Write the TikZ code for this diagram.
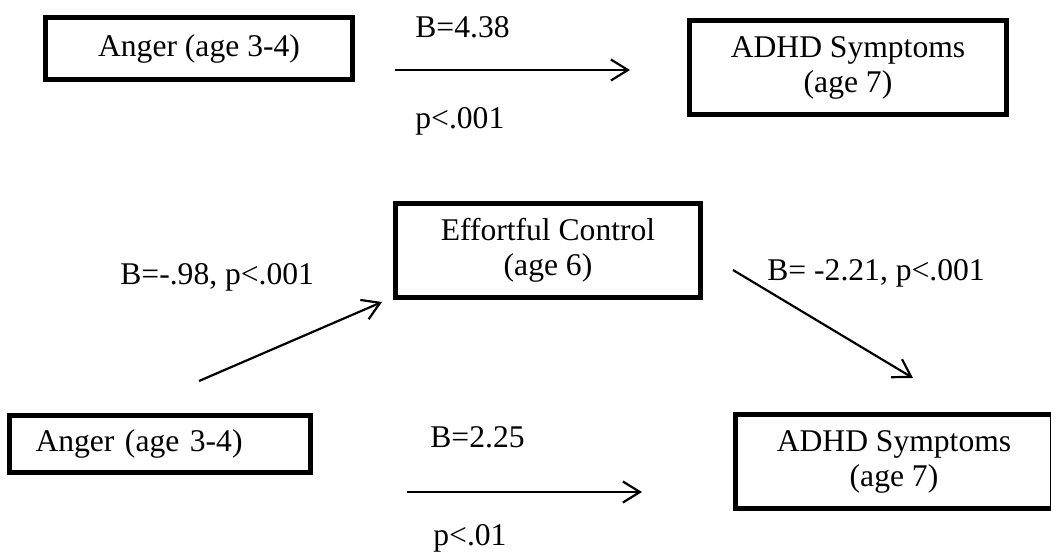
\documentclass[tikz,border=0pt]{standalone}
\usepackage{fontspec}
\setmainfont{Liberation Serif}
\usetikzlibrary{arrows.meta}
\tikzset{
  txt/.style={font=\fontsize{15.8}{17.5}\selectfont, inner sep=0pt},
  box/.style={draw=black, line width=2.6pt, rectangle, inner sep=0pt,
    font=\fontsize{15.8}{17.5}\selectfont, align=center},
  lbl/.style={txt, anchor=base west},
  link/.style={line width=1.1pt, -{Straight Barb[length=8.5pt,width=10.5pt]}}
}
\begin{document}
\begin{tikzpicture}[x=0.5pt,y=-0.5pt]
  \useasboundingbox (0,0) rectangle (1051,554);
  \clip (0,0) rectangle (1051,554);

  % total effect model
  \node[box, minimum width=153.5pt, minimum height=31pt] (anger1) at (199,48.5) {Anger (age 3-4)};
  \node[box, minimum width=158.5pt, minimum height=47pt] (adhd1) at (848,67.5) {ADHD Symptoms\\(age 7)};
  \coordinate (c1s) at (395,70);
  \coordinate (c1e) at (630,70);
  \draw[link] (c1s) -- (c1e);
  \node[lbl] (b1) at (415,37) {B=4.38};
  \node[lbl] (p1) at (415,128) {p<.001};

  % mediation model
  \node[box, minimum width=152.5pt, minimum height=47pt] (ec) at (548,250.5) {Effortful Control\\(age 6)};
  \node[box, minimum width=150.5pt, minimum height=28.5pt, text width=124.5pt, align=left, inner xsep=13pt] (anger2) at (160,444) {Anger (age 3-4)};
  \node[box, minimum width=158.5pt, minimum height=47pt] (adhd2) at (894,461.5) {ADHD Symptoms\\(age 7)};

  \coordinate (a2s) at (199,381);
  \coordinate (a2e) at (382,302);
  \draw[link] (a2s) -- (a2e);
  \node[lbl] (ba) at (120,284) {B=-.98, p<.001};

  \coordinate (b2s) at (733,270);
  \coordinate (b2e) at (913,378);
  \draw[link] (b2s) -- (b2e);
  \node[lbl] (bb) at (767,280) {B= -2.21, p<.001};

  \coordinate (c2s) at (407,492);
  \coordinate (c2e) at (642,492);
  \draw[link] (c2s) -- (c2e);
  \node[lbl] (b2) at (430,447) {B=2.25};
  \node[lbl] (p2) at (433,545) {p<.01};
\end{tikzpicture}
\end{document}
